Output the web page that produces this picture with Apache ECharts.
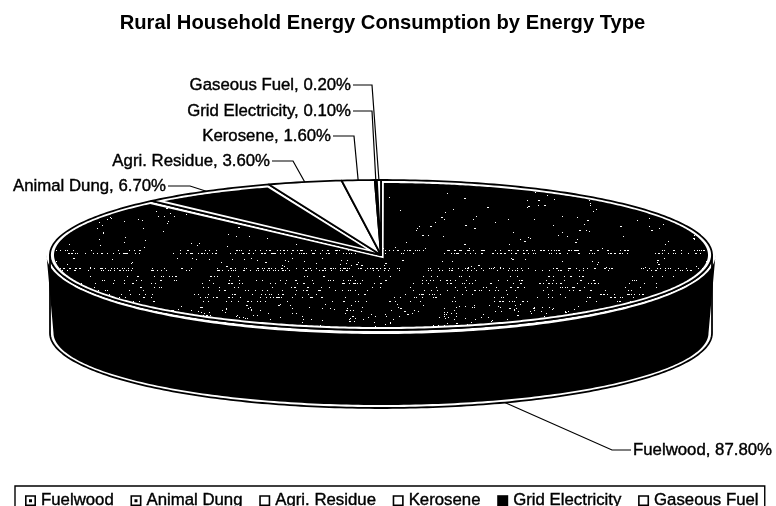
<!DOCTYPE html>
<html>
<head>
<meta charset="utf-8">
<style>html,body{margin:0;padding:0;background:#fff}#chart{width:776px;height:506px}</style>
<script src="https://cdn.jsdelivr.net/npm/echarts@6/dist/echarts.min.js"></script>
</head>
<body>
<div id="chart"></div>
<script>
// Energy shares, percent of rural household consumption
const categories = ['Fuelwood', 'Animal Dung', 'Agri. Residue', 'Kerosene', 'Grid Electricity', 'Gaseous Fuel'];
const shares = [87.8, 6.7, 3.6, 1.6, 0.1, 0.2];

// Which slices are solid and which are left open
const solid = [true, true, false, false, true, false];

// Label placement: [text edge x, text y, elbow x, text side]
const labelLayout = [
  [633, 450, 612, 'left'],
  [166, 186, 190, 'right'],
  [270, 161, 293, 'right'],
  [331, 136, 354, 'right'],
  [351, 111, 372, 'right'],
  [351, 85, 372, 'right']
];

const FONT = '"Liberation Sans", Arial, sans-serif';
const cx = 381, cy = 255, rx = 331, ry = 75, depth = 78;
const insetX = 4, insetY = 3, insetEdge = 2.6;
const rad = d => d * Math.PI / 180;

function rim(a, dx, dy, down) {
  return [cx + (rx - (dx || 0)) * Math.sin(rad(a)),
          cy + (down || 0) - (ry - (dy || 0)) * Math.cos(rad(a))];
}
function arc(a0, a1, dx, dy, down) {
  const pts = [], n = Math.max(2, Math.ceil(Math.abs(a1 - a0)));
  for (let i = 0; i <= n; i++) pts.push(rim(a0 + (a1 - a0) * i / n, dx, dy, down));
  return pts;
}

// Inner outline of a slice, pulled in from its rim and both radial edges
function insetSlice(a0, a1) {
  const p0 = rim(a0), p1 = rim(a1);
  const l0 = Math.hypot(p0[0] - cx, p0[1] - cy), l1 = Math.hypot(p1[0] - cx, p1[1] - cy);
  const n0 = [-(p0[1] - cy) / l0, (p0[0] - cx) / l0];
  const n1 = [(p1[1] - cy) / l1, -(p1[0] - cx) / l1];
  const c0 = cx * n0[0] + cy * n0[1] + insetEdge;
  const c1 = cx * n1[0] + cy * n1[1] + insetEdge;
  const det = n0[0] * n1[1] - n0[1] * n1[0];
  const tip = [(c0 * n1[1] - c1 * n0[1]) / det, (n0[0] * c1 - n1[0] * c0) / det];
  const pts = [];
  const steps = Math.ceil((a1 - a0) * 2);
  for (let i = 0; i <= steps; i++) {
    const p = rim(a0 + (a1 - a0) * i / steps, insetX, insetY);
    const keep = i <= steps / 2 ? p[0] * n0[0] + p[1] * n0[1] >= c0
                                : p[0] * n1[0] + p[1] * n1[1] >= c1;
    if (keep) pts.push(p);
  }
  return [tip].concat(pts);
}

// Print-like grain on the large slice's top face, from a fixed hash sequence
function grainPattern() {
  const c = document.createElement('canvas');
  c.width = 776; c.height = 506;
  const g = c.getContext('2d');
  g.fillStyle = '#000';
  g.fillRect(0, 0, 776, 506);
  g.fillStyle = '#fff';
  const hash = n => { const s = Math.sin(n * 12.9898) * 43758.5453; return s - Math.floor(s); };
  // [top, bottom, dots, number of streak rows; 0 = scattered]
  const bands = [[190, 248, 230, 0], [250, 255, 320, 2], [258, 268, 70, 0], [268, 272, 280, 2],
                 [276, 290, 260, 4], [290, 304, 280, 4], [304, 328, 380, 0]];
  let k = 1;
  bands.forEach(b => {
    for (let i = 0; i < b[2]; i++, k++) {
      const x = 48 + hash(k) * 664;
      let y = b[0] + hash(k + 0.37) * (b[1] - b[0]);
      if (b[3]) y = b[0] + Math.floor(hash(k + 0.71) * b[3]) * (b[1] - b[0]) / b[3];
      // Thin the dots a little in slowly varying patches so the texture stays uneven
      if (Math.sin(x / 37) + Math.sin(x / 11 + y / 9) < -1.3) continue;
      g.fillRect(Math.round(x), Math.round(y), hash(k + 0.13) < 0.1 ? 2 : 1, 1);
    }
  });
  return c;
}
const grain = { image: grainPattern(), repeat: 'no-repeat' };

function renderSlice(params, api) {
  const i = params.seriesIndex;
  const value = api.value(0), before = api.value(1);
  const a0 = before * 3.6, a1 = (before + value) * 3.6, mid = (a0 + a1) / 2;
  const children = [];
  const outline = { stroke: '#000', lineWidth: 1.8, lineJoin: 'round' };

  // Wall of the slice, only where the slice faces the viewer
  const w0 = Math.max(a0, 90), w1 = Math.min(a1, 270);
  if (w1 > w0) {
    children.push({
      type: 'polygon',
      shape: { points: arc(w0, w1, 0, 0, depth).concat(arc(w1, w0)) },
      style: Object.assign({ fill: '#fff' }, outline)
    });
    children.push({
      type: 'polygon',
      shape: { points: arc(w0, w1, 3.5, 3, depth).concat(arc(w1, w0, -3.5, -4)) },
      style: { fill: '#000' }
    });
  }

  // Top face
  children.push({
    type: 'polygon',
    shape: { points: [[cx, cy]].concat(arc(a0, a1)) },
    style: Object.assign({ fill: '#fff' }, outline)
  });
  if (solid[i] && a1 - a0 > 5) {
    children.push({
      type: 'polygon',
      shape: { points: insetSlice(a0, a1) },
      style: { fill: i === 0 ? grain : '#000' }
    });
  } else if (solid[i]) {
    children.push({
      type: 'polygon',
      shape: { points: [[cx, cy]].concat(arc(a0, a1)) },
      style: { fill: '#000' }
    });
  }

  // Leader line and value label
  const layout = labelLayout[i];
  const end = rim(mid, 0, 0, mid > 90 && mid < 270 ? depth : 0);
  const gap = layout[3] === 'right' ? 2 : -2;
  children.push({
    type: 'polyline',
    shape: { points: [[layout[0] + gap, layout[1]], [layout[2], layout[1]], end] },
    style: { fill: 'none', stroke: '#000', lineWidth: 1.2 }
  });
  children.push({
    type: 'text',
    style: {
      x: layout[0], y: layout[1],
      text: categories[i] + ', ' + value.toFixed(2) + '%',
      align: layout[3], verticalAlign: 'middle',
      font: '16.8px ' + FONT, fill: '#000', stroke: '#000', lineWidth: 0.4
    }
  });
  return { type: 'group', children: children };
}

const rows = shares.map((v, i) => [v, shares.slice(0, i).reduce((s, x) => s + x, 0)]);

// Legend marks: open square, with a centre dot for the first two
const openBox = 'path://M0 0H11V11H0ZM1.6 1.6V9.4H9.4V1.6Z';
const dotBox = 'path://M0 0H11V11H0ZM1.6 1.6V9.4H9.4V1.6ZM4 4H7V7H4Z';
const icons = [dotBox, dotBox, openBox, openBox, 'rect', openBox];

const chart = echarts.init(document.getElementById('chart'), null, { renderer: 'canvas' });
chart.setOption({
  animation: false,
  backgroundColor: '#fff',
  title: {
    text: 'Rural Household Energy Consumption by Energy Type',
    left: 377.5, top: 8, textAlign: 'center',
    textStyle: { fontFamily: FONT, fontWeight: 'bold', fontSize: 20.2, color: '#000' }
  },
  legend: {
    left: 15, top: 486,
    padding: [6, 6, 15, 10],
    itemGap: 16.5, itemWidth: 11, itemHeight: 11,
    borderColor: '#000', borderWidth: 1.4,
    selectedMode: false,
    textStyle: { fontFamily: FONT, fontSize: 16.8, color: '#000', textBorderColor: '#000', textBorderWidth: 0.4 },
    data: categories.map((name, i) => ({
      name, icon: icons[i],
      itemStyle: { color: '#000', borderWidth: 0 }
    }))
  },
  series: categories.map((name, i) => ({
    type: 'custom',
    name,
    coordinateSystem: 'none',
    silent: true,
    itemStyle: { color: '#000' },
    renderItem: renderSlice,
    data: [rows[i]]
  }))
});
</script>
</body>
</html>
